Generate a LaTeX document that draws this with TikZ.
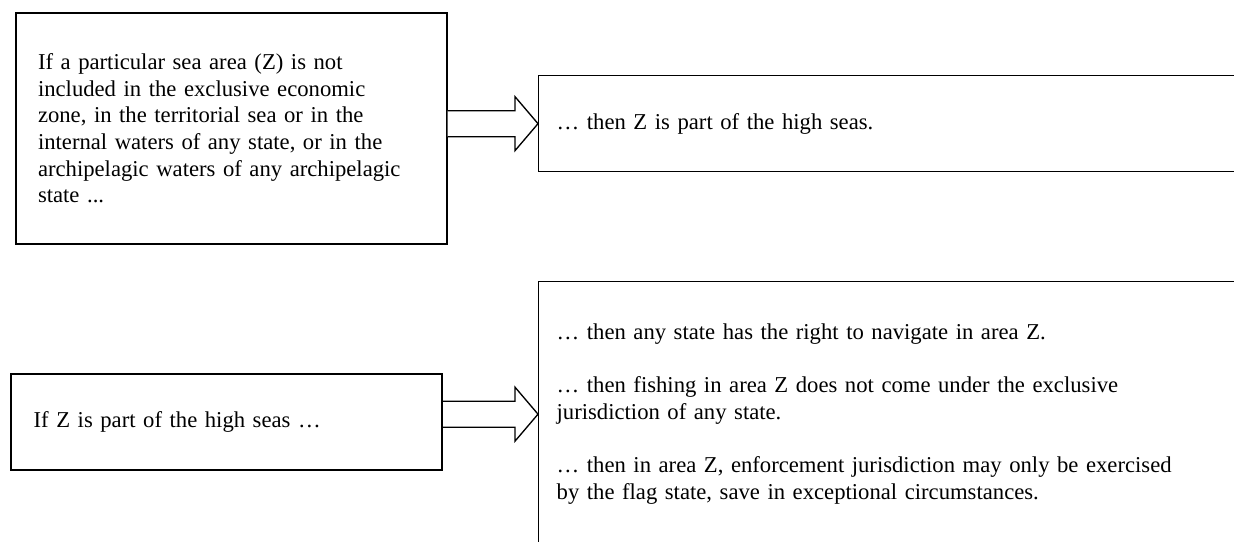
\documentclass[tikz,border=0pt]{standalone}
\usepackage{fontspec}
\setmainfont{Liberation Serif}
\usetikzlibrary{positioning,calc}
\tikzset{
	box/.style={draw=black,line width=1.5pt,fill=white,anchor=north west,
		inner xsep=16.5pt,text width=290pt,align=left,
		font=\fontsize{17pt}{20pt}\selectfont},
	thenbox/.style={box,line width=1pt,inner xsep=13.5pt,text width=510pt},
	fat/.style={draw=black,line width=1pt,fill=white,line join=miter},
}
\begin{document}
\begin{tikzpicture}[x=0.75pt,y=-0.75pt]
	\path[use as bounding box,clip] (0,0) rectangle (1234,542);
	% conditions
	\node[box,minimum height=173.25pt] (ifarea) at (15,12)
		{If a particular sea area (Z) is not\\included in the exclusive economic\\zone, in the territorial sea or in the\\internal waters of any state, or in the\\archipelagic waters of any archipelagic\\state ...};
	\node[box,inner xsep=17pt,text width=289.25pt,minimum height=72pt] (ifhigh) at (10,373)
		{If Z is part of the high seas …};
	% consequences
	\node[thenbox,minimum height=72pt] (highseas) at (538,75)
		{… then Z is part of the high seas.};
	\node[thenbox,minimum height=198.75pt] (rights) at (538,281)
		{… then any state has the right to navigate in area Z.\\[20pt]… then fishing in area Z does not come under the exclusive\\jurisdiction of any state.\\[20pt]… then in area Z, enforcement jurisdiction may only be exercised\\by the flag state, save in exceptional circumstances.};
	% block arrows
	\foreach \a/\b in {ifarea/highseas,ifhigh/rights}
	\draw[fat] ($(\a.east |- \b.west)+(0,-13)$) -- ($(\b.west)+(-23,-13)$)
		-- ($(\b.west)+(-23,-27)$) -- (\b.west) -- ($(\b.west)+(-23,27)$)
		-- ($(\b.west)+(-23,13)$) -- ($(\a.east |- \b.west)+(0,13)$);
\end{tikzpicture}
\end{document}
